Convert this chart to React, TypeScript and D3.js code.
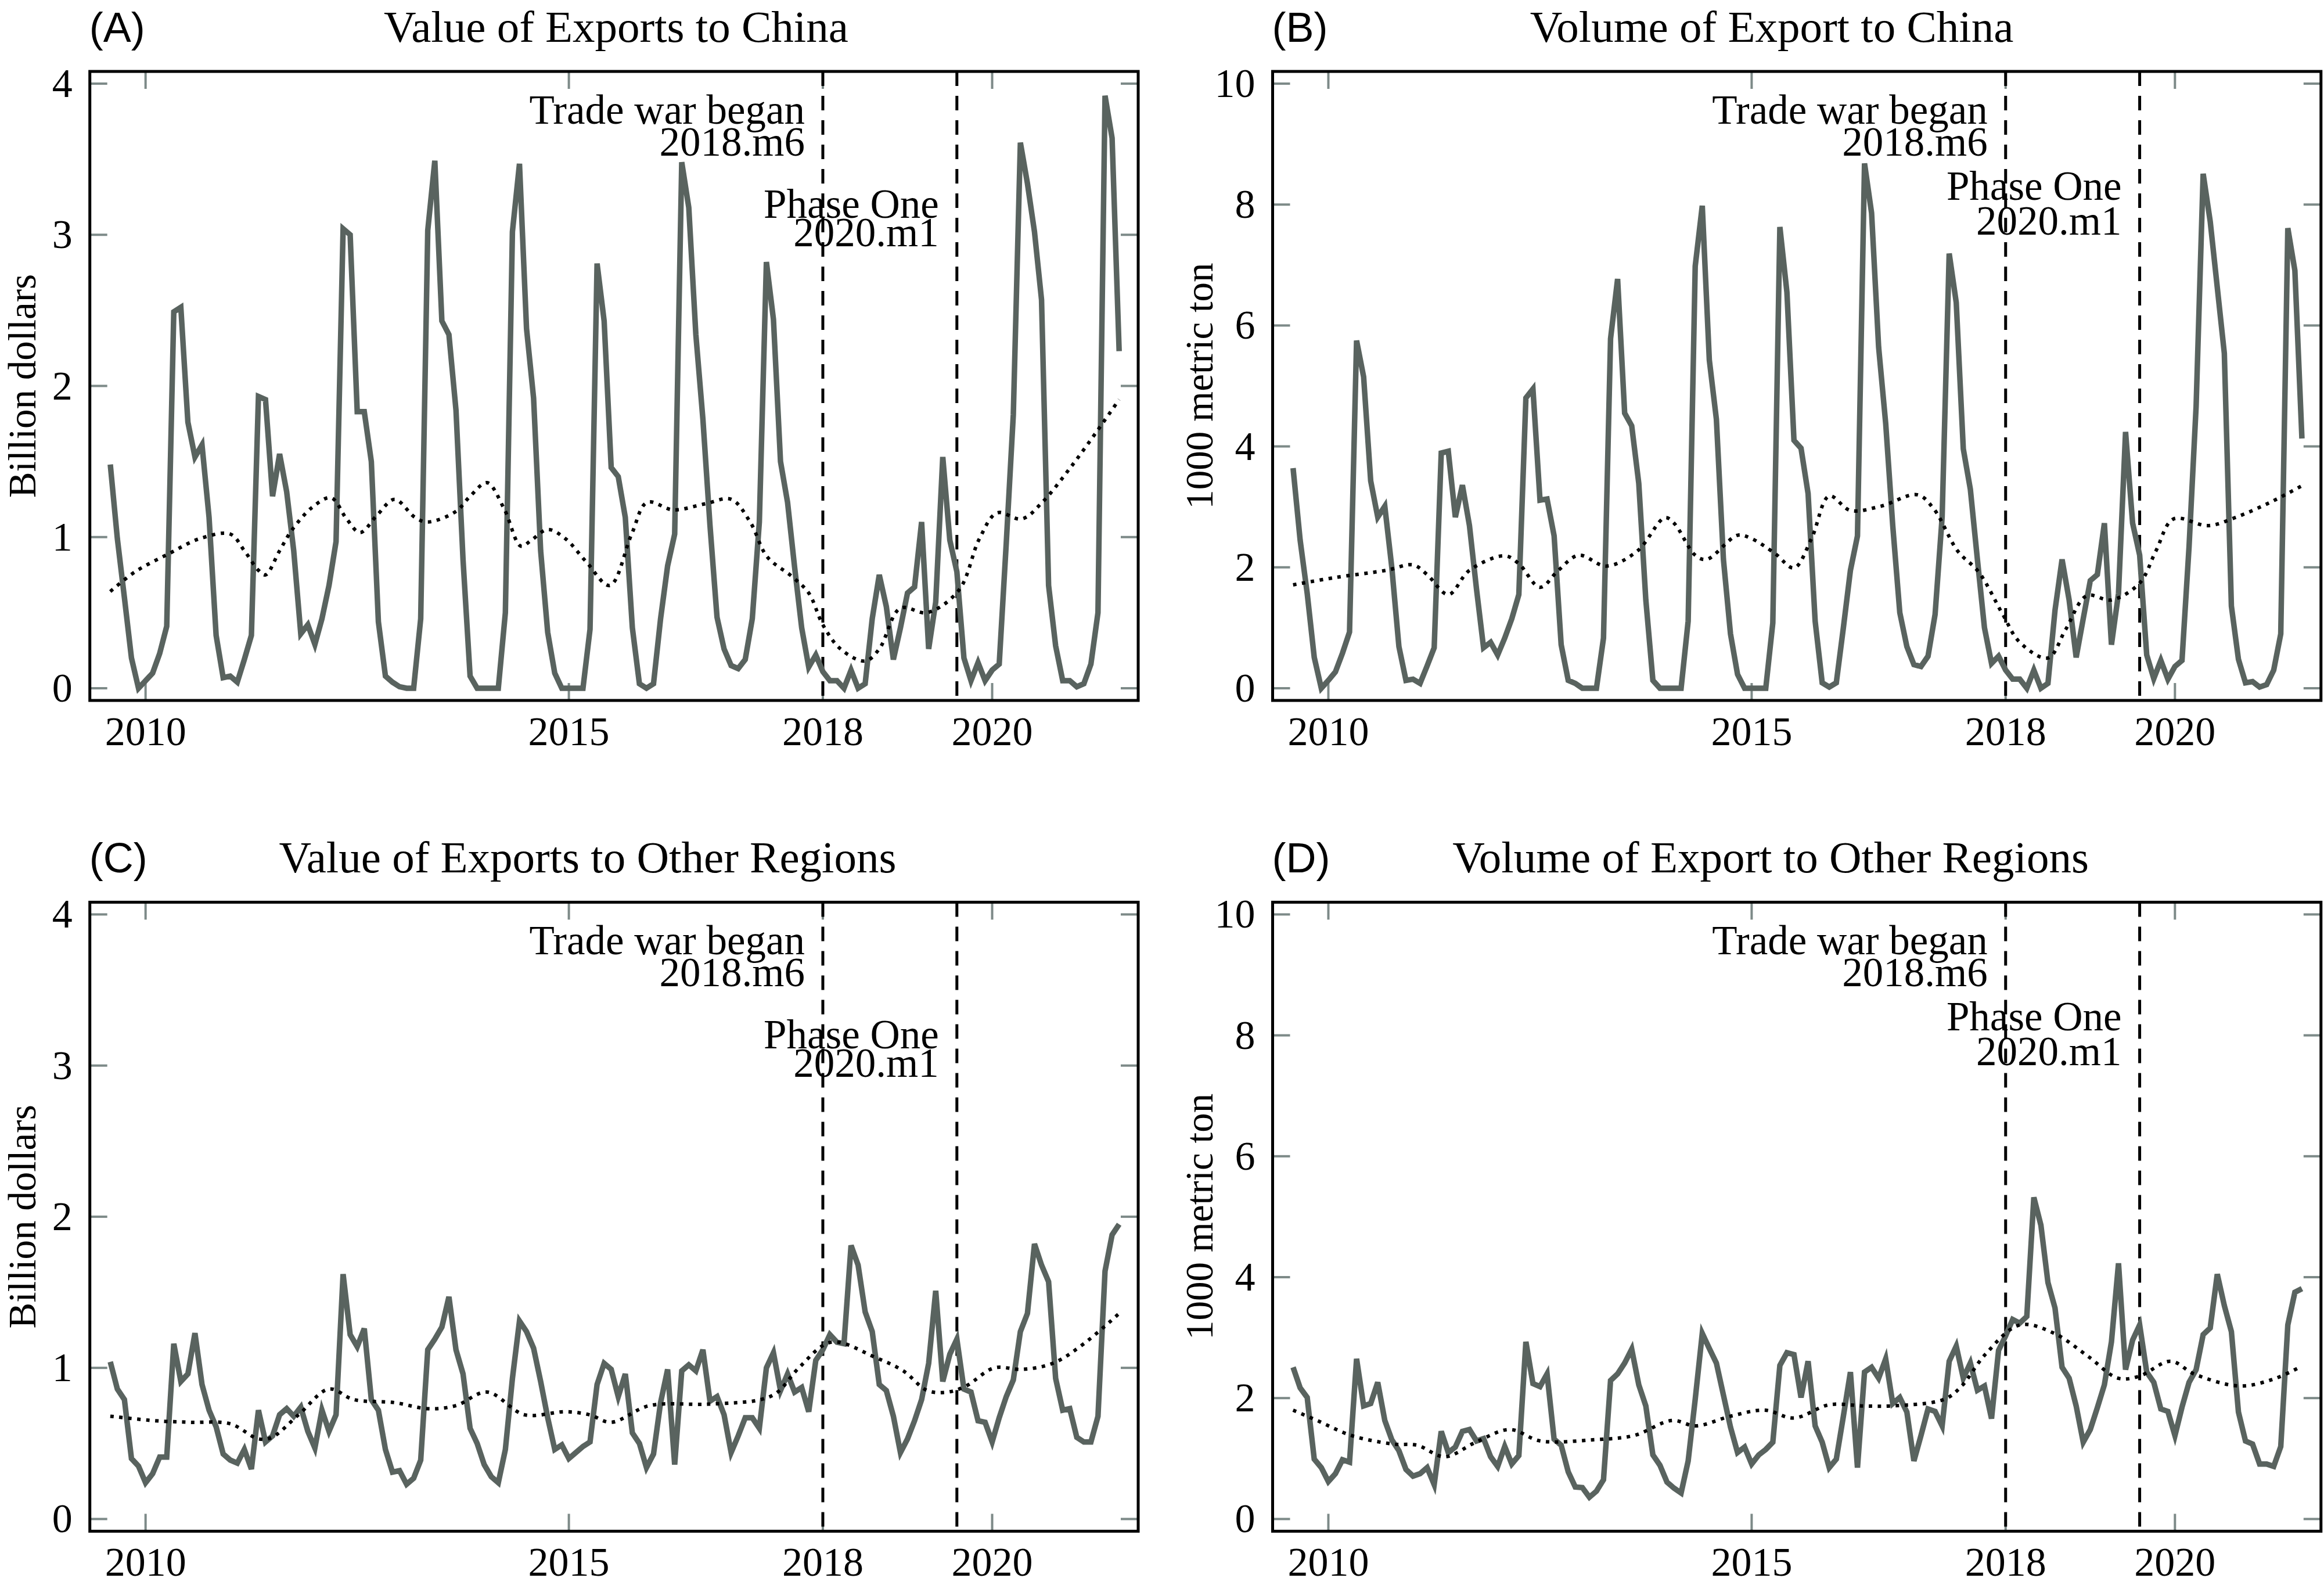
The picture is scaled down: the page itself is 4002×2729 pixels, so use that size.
import React from 'react';
import * as d3 from 'd3';

// monthly series, 2010.m1 .. 2021.m12 (index 0 = 2010.m1)
const valueChina = [
  1.48, 0.99, 0.60, 0.20, 0.00, 0.05, 0.10, 0.23, 0.41, 2.49,
  2.52, 1.76, 1.53, 1.61, 1.13, 0.35, 0.07, 0.08, 0.04, 0.19,
  0.35, 1.93, 1.91, 1.27, 1.55, 1.30, 0.91, 0.36, 0.42, 0.29,
  0.46, 0.68, 0.97, 3.04, 3.00, 1.83, 1.83, 1.50, 0.44, 0.08,
  0.04, 0.01, 0.00, 0.00, 0.46, 3.03, 3.49, 2.43, 2.34, 1.84,
  0.85, 0.08, 0.00, 0.00, 0.00, 0.00, 0.50, 3.02, 3.47, 2.38,
  1.92, 0.91, 0.37, 0.10, 0.00, 0.00, 0.00, 0.00, 0.39, 2.81,
  2.43, 1.46, 1.40, 1.13, 0.40, 0.03, 0.00, 0.03, 0.46, 0.81,
  1.02, 3.48, 3.18, 2.34, 1.78, 1.08, 0.47, 0.26, 0.15, 0.13,
  0.19, 0.46, 1.10, 2.82, 2.44, 1.50, 1.23, 0.80, 0.40, 0.14,
  0.22, 0.11, 0.05, 0.05, 0.00, 0.12, 0.00, 0.03, 0.46, 0.75,
  0.54, 0.19, 0.40, 0.63, 0.67, 1.10, 0.26, 0.57, 1.53, 0.98,
  0.77, 0.20, 0.05, 0.17, 0.05, 0.12, 0.16, 0.96, 1.81, 3.61,
  3.34, 3.02, 2.57, 0.68, 0.28, 0.05, 0.05, 0.01, 0.03, 0.16,
  0.50, 3.92, 3.64, 2.23,
];

const volumeChina = [
  3.64, 2.45, 1.57, 0.51, 0.00, 0.13, 0.27, 0.58, 0.93, 5.75,
  5.15, 3.43, 2.83, 3.01, 1.99, 0.69, 0.13, 0.15, 0.08, 0.37,
  0.67, 3.89, 3.92, 2.83, 3.36, 2.69, 1.64, 0.67, 0.76, 0.55,
  0.83, 1.15, 1.55, 4.80, 4.95, 3.11, 3.13, 2.52, 0.72, 0.13,
  0.08, 0.00, 0.00, 0.00, 0.83, 5.78, 6.77, 4.55, 4.34, 3.39,
  1.46, 0.13, 0.00, 0.00, 0.00, 0.00, 1.11, 6.98, 7.98, 5.43,
  4.45, 2.13, 0.90, 0.23, 0.00, 0.00, 0.00, 0.00, 1.08, 7.63,
  6.55, 4.10, 3.97, 3.22, 1.11, 0.09, 0.02, 0.09, 1.00, 1.95,
  2.52, 8.68, 7.86, 5.64, 4.38, 2.69, 1.25, 0.69, 0.39, 0.36,
  0.53, 1.22, 2.83, 7.19, 6.38, 3.96, 3.29, 2.13, 1.00, 0.41,
  0.53, 0.30, 0.15, 0.15, 0.00, 0.30, 0.00, 0.08, 1.29, 2.13,
  1.46, 0.51, 1.15, 1.78, 1.88, 2.73, 0.72, 1.57, 4.24, 2.73,
  2.20, 0.55, 0.16, 0.46, 0.15, 0.36, 0.46, 2.34, 4.66, 8.51,
  7.72, 6.63, 5.54, 1.36, 0.48, 0.09, 0.11, 0.02, 0.06, 0.30,
  0.90, 7.61, 6.91, 4.13,
];

const valueOther = [
  1.04, 0.86, 0.79, 0.40, 0.35, 0.24, 0.30, 0.41, 0.41, 1.16,
  0.91, 0.96, 1.23, 0.89, 0.72, 0.61, 0.43, 0.39, 0.37, 0.46,
  0.33, 0.72, 0.51, 0.55, 0.69, 0.73, 0.68, 0.74, 0.58, 0.47,
  0.72, 0.58, 0.69, 1.62, 1.22, 1.14, 1.26, 0.79, 0.72, 0.46,
  0.31, 0.32, 0.23, 0.27, 0.39, 1.12, 1.19, 1.27, 1.47, 1.12,
  0.96, 0.60, 0.50, 0.36, 0.28, 0.24, 0.46, 0.93, 1.31, 1.24,
  1.13, 0.91, 0.67, 0.46, 0.49, 0.40, 0.44, 0.48, 0.51, 0.89,
  1.03, 0.99, 0.81, 0.96, 0.57, 0.50, 0.34, 0.43, 0.77, 0.99,
  0.36, 0.98, 1.02, 0.98, 1.12, 0.78, 0.81, 0.69, 0.44, 0.55,
  0.67, 0.67, 0.60, 1.00, 1.10, 0.85, 0.96, 0.84, 0.87, 0.71,
  1.05, 1.12, 1.22, 1.17, 1.16, 1.81, 1.68, 1.37, 1.24, 0.89,
  0.85, 0.68, 0.44, 0.53, 0.65, 0.79, 1.03, 1.51, 0.91, 1.09,
  1.19, 0.86, 0.84, 0.65, 0.64, 0.51, 0.67, 0.81, 0.92, 1.24,
  1.36, 1.82, 1.68, 1.57, 0.93, 0.72, 0.73, 0.54, 0.51, 0.51,
  0.68, 1.64, 1.88, 1.95,
];

const volumeOther = [
  2.51, 2.17, 2.01, 0.99, 0.85, 0.62, 0.75, 0.98, 0.94, 2.65,
  1.87, 1.91, 2.26, 1.63, 1.31, 1.13, 0.82, 0.71, 0.75, 0.85,
  0.57, 1.45, 1.10, 1.19, 1.45, 1.48, 1.29, 1.33, 1.03, 0.87,
  1.20, 0.91, 1.05, 2.93, 2.24, 2.19, 2.40, 1.32, 1.22, 0.78,
  0.53, 0.52, 0.36, 0.46, 0.65, 2.29, 2.40, 2.58, 2.81, 2.22,
  1.87, 1.06, 0.89, 0.61, 0.51, 0.43, 0.96, 1.98, 3.07, 2.82,
  2.58, 2.05, 1.52, 1.10, 1.19, 0.91, 1.06, 1.15, 1.27, 2.54,
  2.75, 2.72, 2.01, 2.61, 1.54, 1.27, 0.85, 0.99, 1.70, 2.43,
  0.85, 2.43, 2.51, 2.33, 2.65, 1.91, 2.01, 1.77, 0.96, 1.38,
  1.82, 1.78, 1.54, 2.61, 2.86, 2.33, 2.58, 2.13, 2.20, 1.66,
  2.79, 3.03, 3.30, 3.24, 3.35, 5.32, 4.86, 3.91, 3.49, 2.51,
  2.33, 1.87, 1.27, 1.48, 1.84, 2.22, 2.93, 4.23, 2.47, 2.96,
  3.21, 2.43, 2.26, 1.82, 1.78, 1.38, 1.85, 2.26, 2.47, 3.05,
  3.16, 4.05, 3.53, 3.10, 1.77, 1.29, 1.24, 0.91, 0.91, 0.87,
  1.20, 3.21, 3.75, 3.81,
];

// dotted trend lines, read at irregular month indices
const trendMonthsValueChina = [0, 3.5, 8.3, 12.7, 17, 19, 21, 22, 24, 25.8, 28.7, 31.3, 33.5, 35.4, 37.9, 40.3, 43.2, 45, 49, 51, 53.4, 55.8, 58.2, 59.7, 62, 64.5, 67.4, 70.8, 73.9, 76.1, 79.8, 84.3, 88, 90.7, 93.1, 96.6, 99, 101, 103.5, 107, 109, 112, 115.8, 120.3, 123.2, 125.7, 129.2, 132.1, 136.1, 140, 143];
const trendValueChina = [0.64, 0.77, 0.89, 0.99, 1.02, 0.91, 0.78, 0.75, 0.91, 1.05, 1.20, 1.26, 1.12, 1.03, 1.15, 1.25, 1.13, 1.10, 1.17, 1.27, 1.36, 1.19, 0.94, 0.98, 1.05, 0.99, 0.84, 0.68, 1.02, 1.23, 1.18, 1.22, 1.25, 1.10, 0.87, 0.74, 0.63, 0.42, 0.26, 0.18, 0.26, 0.53, 0.50, 0.65, 0.99, 1.16, 1.12, 1.23, 1.46, 1.71, 1.91];

const trendMonthsVolumeChina = [0, 5.9, 13.2, 17, 19, 22, 25, 30, 32, 35, 37.6, 40.5, 44.4, 48.8, 52.7, 54, 57, 58.6, 63, 64.9, 68.3, 71, 73.5, 76, 79, 83.3, 88.5, 90.8, 94.2, 97.2, 100.6, 103, 107, 109.5, 112.5, 116, 120, 122.3, 124.8, 129.7, 133.7, 138.6, 143];
const trendVolumeChina = [1.71, 1.83, 1.95, 2.04, 1.88, 1.55, 1.95, 2.19, 2.06, 1.67, 1.95, 2.20, 2.02, 2.27, 2.82, 2.73, 2.20, 2.13, 2.53, 2.48, 2.23, 1.99, 2.48, 3.18, 2.94, 3.01, 3.20, 2.97, 2.27, 1.92, 1.22, 0.76, 0.50, 0.97, 1.53, 1.46, 1.74, 2.27, 2.80, 2.69, 2.83, 3.08, 3.35];

const trendMonthsValueOther = [0, 6.4, 11.2, 17, 21, 22.9, 26.7, 31, 34.5, 40.3, 45, 49, 53.4, 58.7, 64.5, 67.9, 71, 76.4, 84.8, 92.2, 94.6, 97.6, 102.2, 108.4, 112.4, 115.8, 118.7, 121.3, 125.3, 129.2, 133.6, 138, 143];
const trendValueOther = [0.68, 0.65, 0.64, 0.63, 0.53, 0.54, 0.69, 0.86, 0.79, 0.77, 0.73, 0.75, 0.84, 0.69, 0.71, 0.69, 0.64, 0.75, 0.76, 0.79, 0.84, 1.00, 1.17, 1.07, 0.98, 0.85, 0.84, 0.88, 1.00, 0.99, 1.03, 1.16, 1.36];

const trendMonthsVolumeOther = [0, 3.4, 8.3, 14.2, 17.6, 21.5, 25.9, 30.7, 35.1, 42.5, 48.3, 53.7, 57.1, 62, 66.9, 71, 76, 80.9, 84.8, 92.3, 94.7, 98.1, 103, 107.9, 112.8, 116.9, 119.9, 124.4, 127.7, 134.2, 139.1, 143];
const trendVolumeOther = [1.80, 1.63, 1.38, 1.24, 1.22, 1.03, 1.27, 1.48, 1.29, 1.31, 1.38, 1.63, 1.54, 1.70, 1.80, 1.67, 1.89, 1.87, 1.87, 1.98, 2.19, 2.72, 3.21, 3.07, 2.68, 2.33, 2.36, 2.61, 2.40, 2.20, 2.32, 2.53];

const xTickYears = [2010, 2015, 2018, 2020];
const valueTicks = [0, 1, 2, 3, 4];
const volumeTicks = [0, 2, 4, 6, 8, 10];

const eventNames = ['Trade war began', 'Phase One'];
const eventDates = ['2018.m6', '2020.m1'];
const eventMonths = [101, 120];

const W = 4002;
const H = 2729;
const PW = 1805.3;
const PH = 1083;
const GRAY = '#59635f';
const TICK = '#7d8a88';
const SERIF = '"Liberation Serif", "Times New Roman", serif';
const SANS = '"Liberation Sans", Arial, sans-serif';

// tick at mid-year (index of June of that year)
const yearToMonth = (yr: number) => (yr - 2010) * 12 + 5;

interface PanelSpec {
  tag: string;
  title: string;
  ylabel: string;
  series: number[];
  trendMonths: number[];
  trend: number[];
  ticks: number[];
  ymax: number;
  left: number;
  top: number;
  titleX: number;
  ylabelX: number;
  noteDy: number[];
}

const panels: PanelSpec[] = [
  {
    tag: '(A)', title: 'Value of Exports to China', ylabel: 'Billion dollars',
    series: valueChina, trendMonths: trendMonthsValueChina, trend: trendValueChina,
    ticks: valueTicks, ymax: 4, left: 154.7, top: 123,
    titleX: 1061, ylabelX: 61, noteDy: [90, 145, 252, 301],
  },
  {
    tag: '(B)', title: 'Volume of Export to China', ylabel: '1000 metric ton',
    series: volumeChina, trendMonths: trendMonthsVolumeChina, trend: trendVolumeChina,
    ticks: volumeTicks, ymax: 10, left: 2191.5, top: 123,
    titleX: 3051, ylabelX: 2088, noteDy: [90, 145, 221, 281],
  },
  {
    tag: '(C)', title: 'Value of Exports to Other Regions', ylabel: 'Billion dollars',
    series: valueOther, trendMonths: trendMonthsValueOther, trend: trendValueOther,
    ticks: valueTicks, ymax: 4, left: 154.7, top: 1553.4,
    titleX: 1012, ylabelX: 61, noteDy: [90, 145, 252, 301],
  },
  {
    tag: '(D)', title: 'Volume of Export to Other Regions', ylabel: '1000 metric ton',
    series: volumeOther, trendMonths: trendMonthsVolumeOther, trend: trendVolumeOther,
    ticks: volumeTicks, ymax: 10, left: 2191.5, top: 1553.4,
    titleX: 3049, ylabelX: 2088, noteDy: [90, 145, 221, 281],
  },
];

const Panel: React.FC<{ p: PanelSpec }> = ({ p }) => {
  const pad = p.ymax * 0.0202;
  const x = d3.scaleLinear().domain([-2.9, 145.7]).range([p.left, p.left + PW]);
  const y = d3.scaleLinear().domain([-pad, p.ymax + pad]).range([p.top + PH, p.top]);
  const bottom = p.top + PH;
  const right = p.left + PW;

  const seriesLine = d3.line<number>()
    .x((_, i) => x(i))
    .y(d => y(d));

  const trendPts: [number, number][] = p.trendMonths.map((m, i) => [m, p.trend[i]]);
  const trendLine = d3.line<[number, number]>()
    .x(d => x(d[0]))
    .y(d => y(d[1]))
    .curve(d3.curveCatmullRom.alpha(0.5));

  return (
    <g>
      {/* header */}
      <text x={p.left - 1} y={p.top - 51} fontFamily={SANS} fontSize={72} fill="#000">{p.tag}</text>
      <text x={p.titleX} y={p.top - 51} textAnchor="middle" fontFamily={SERIF} fontSize={77} fill="#000">{p.title}</text>

      {/* y label */}
      <text
        transform={`translate(${p.ylabelX}, ${p.top + PH / 2}) rotate(-90)`}
        textAnchor="middle" fontFamily={SERIF} fontSize={67} fill="#000"
      >{p.ylabel}</text>

      {/* ticks, inside on all four sides */}
      {p.ticks.map(t => (
        <g key={`y${t}`}>
          <line x1={p.left} x2={p.left + 30} y1={y(t)} y2={y(t)} stroke={TICK} strokeWidth={4} />
          <line x1={right - 30} x2={right} y1={y(t)} y2={y(t)} stroke={TICK} strokeWidth={4} />
          <text x={p.left - 30} y={y(t) + 23} textAnchor="end" fontFamily={SERIF} fontSize={70} fill="#000">{t}</text>
        </g>
      ))}
      {xTickYears.map(yr => {
        const xx = x(yearToMonth(yr));
        return (
          <g key={`x${yr}`}>
            <line x1={xx} x2={xx} y1={p.top} y2={p.top + 30} stroke={TICK} strokeWidth={4} />
            <line x1={xx} x2={xx} y1={bottom - 30} y2={bottom} stroke={TICK} strokeWidth={4} />
            <text x={xx} y={bottom + 77} textAnchor="middle" fontFamily={SERIF} fontSize={70} fill="#000">{yr}</text>
          </g>
        );
      })}

      {/* event lines */}
      {eventMonths.map(m => (
        <line key={`e${m}`} x1={x(m)} x2={x(m)} y1={p.top} y2={bottom}
          stroke="#000" strokeWidth={5} strokeDasharray="25 17" />
      ))}

      {/* series + trend */}
      <path d={seriesLine(p.series) || ''} fill="none" stroke={GRAY} strokeWidth={9.5} strokeLinejoin="miter" strokeMiterlimit={4} />
      <path d={trendLine(trendPts) || ''} fill="none" stroke="#000" strokeWidth={6} strokeDasharray="6 9.5" />

      {/* annotations */}
      {eventMonths.map((m, i) => (
        <g key={`n${m}`} fontFamily={SERIF} fontSize={71} fill="#000" textAnchor="end">
          <text x={x(m) - 31} y={p.top + p.noteDy[i * 2]}>{eventNames[i]}</text>
          <text x={x(m) - 31} y={p.top + p.noteDy[i * 2 + 1]}>{eventDates[i]}</text>
        </g>
      ))}

      {/* frame */}
      <rect x={p.left} y={p.top} width={PW} height={PH} fill="none" stroke="#000" strokeWidth={5} />
    </g>
  );
};

export default function App() {
  return (
    <svg
      width={W}
      height={H}
      viewBox={`0 0 ${W} ${H}`}
      style={{ position: 'absolute', left: 0, top: 0, display: 'block', background: '#fff' }}
    >
      <rect x={0} y={0} width={W} height={H} fill="#fff" />
      {panels.map(p => <Panel key={p.tag} p={p} />)}
    </svg>
  );
}
